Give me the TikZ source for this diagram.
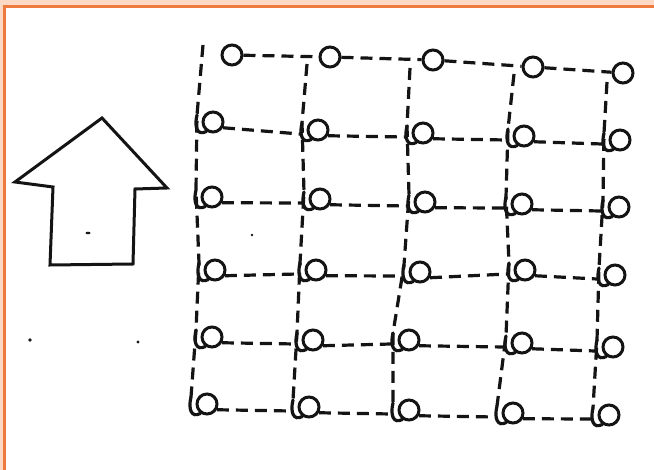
\documentclass[tikz,border=0pt]{standalone}
\usetikzlibrary{calc}
\definecolor{peach}{HTML}{FBD9C4}
\definecolor{frameorange}{HTML}{EE7A40}
\begin{document}
\begin{tikzpicture}[x=1pt,y=-1pt,
  ink/.style={line width=3.2pt, black!92},
  gridline/.style={ink, dash pattern=on 12pt off 7pt},
  ring/.style={circle, draw=black!92, line width=3pt, minimum size=20pt, inner sep=0pt}]
\useasboundingbox (0,0) rectangle (654,470);
\fill[white] (0,0) rectangle (654,470);
% frame
\fill[peach] (0,0) rectangle (654,5);
\fill[peach] (0,0) rectangle (3,470);
\fill[frameorange] (3,5) rectangle (654,8);
\fill[frameorange] (3,5) rectangle (6,470);
% circles
\foreach \r/\c/\x/\y in {
  1/1/232/55, 1/2/330/57, 1/3/433/60, 1/4/533/67, 1/5/623/73,
  2/1/213/122, 2/2/318/130, 2/3/423/133, 2/4/524/136, 2/5/620/140,
  3/1/212/197, 3/2/320/199, 3/3/425/202, 3/4/522/204, 3/5/619/207,
  4/1/215/270, 4/2/316/270, 4/3/420/272, 4/4/525/270, 4/5/615/275,
  5/1/212/337, 5/2/313/340, 5/3/409/340, 5/4/522/343, 5/5/613/347,
  6/1/207/404, 6/2/309/407, 6/3/409/410, 6/4/513/413, 6/5/609/415}{
  \node[ring] (c-\r-\c) at (\x,\y) {};
  \coordinate (v-\r-\c) at (\x-16,\y-7);
  \coordinate (e-\r-\c) at (\x-18,\y+4);
}
% top starts of vertical lines
\coordinate (t-1) at (203,45);
\coordinate (t-2) at (307,64);
\coordinate (t-3) at (410,68);
\coordinate (t-4) at (514,74);
\coordinate (t-5) at (607,82);
% vertical dashed lines
\foreach \c in {1,...,5}{
  \draw[gridline] (t-\c) -- (v-2-\c) -- (v-3-\c) -- (v-4-\c) -- (v-5-\c) -- (v-6-\c);
}
% hooks
\foreach \r in {2,...,6}{
  \foreach \c in {1,...,5}{
    \draw[ink, line cap=round] (v-\r-\c) .. controls +(-3,12) and +(-9,5) .. (c-\r-\c.235);
  }
}
% top row horizontal lines
\foreach \c/\n in {1/2,2/3,3/4,4/5}{
  \draw[gridline] (c-1-\c) -- (c-1-\n);
}
% other horizontal lines
\foreach \r in {2,...,6}{
  \foreach \c/\n in {1/2,2/3,3/4,4/5}{
    \draw[gridline] (c-\r-\c.-30) -- (e-\r-\n);
  }
}
% arrow
\draw[ink, line width=3pt, line join=miter] (102,118) -- (167,188) -- (135,189) -- (133,264) -- (50,265) -- (53,187) -- (15,182) -- cycle;
% specks
\fill[black!90] (88,233) ellipse (2.5 and 1.3);
\fill[black!90] (30,340) circle (1.8);
\fill[black!90] (138,342) circle (1.6);
\fill[black!90] (252,235) circle (1.3);
\end{tikzpicture}
\end{document}
